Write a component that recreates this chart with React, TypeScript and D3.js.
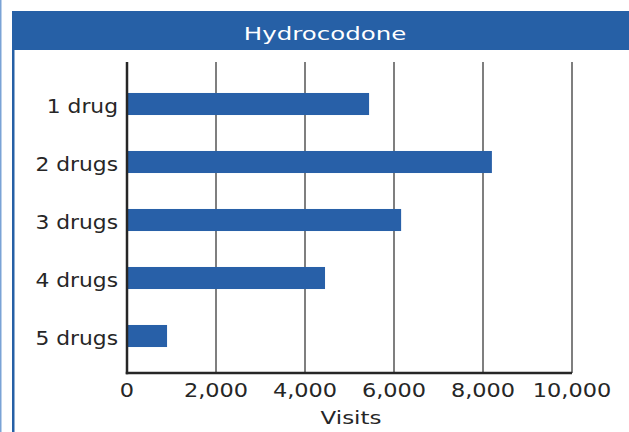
import React from "react";
import * as d3 from "d3";

const categories = ["1 drug", "2 drugs", "3 drugs", "4 drugs", "5 drugs"];
const visits = [5440, 8200, 6160, 4450, 900];
const xTicks = [0, 2000, 4000, 6000, 8000, 10000];
const title = "Hydrocodone";
const xLabel = "Visits";

const W = 629;
const H = 432;
const font = "'DejaVu Sans', Verdana, sans-serif";

function T({ x, y, sx, size, anchor, fill, children }: any) {
  return (
    <g transform={`translate(${x},${y}) scale(${sx},1)`}>
      <text x={0} y={0} textAnchor={anchor} fill={fill} fontFamily={font} fontSize={size}>
        {children}
      </text>
    </g>
  );
}

export default function App() {
  const left = 127;
  const right = 572;
  const top = 62;
  const bottom = 373;
  const x = d3.scaleLinear().domain([0, 10000]).range([left, right]);
  const y = d3.scaleBand().domain(categories).range([75, 365]).paddingInner(0.62).paddingOuter(0.31);
  const fmt = d3.format(",");
  const blue = "#2860a8";
  const ink = "#262626";
  return (
    <svg width={W} height={H} style={{ position: "absolute", left: 0, top: 0, display: "block" }}>
      <rect x={0} y={0} width={W} height={H} fill="#fff" />
      <rect x={0} y={0} width={1.5} height={H} fill="#7aa3d6" />
      <rect x={12} y={11} width={W - 12} height={39} fill="#2660a6" />
      <rect x={12} y={50} width={2.5} height={H - 50} fill="#2660a6" />
      <T x={325} y={40} sx={1.4} size={17.5} anchor="middle" fill="#fff">{title}</T>
      {xTicks.slice(1).map((t) => (
        <line key={t} x1={x(t)} x2={x(t)} y1={top} y2={bottom} stroke="#555" strokeWidth={1.5} />
      ))}
      {categories.map((c, i) => (
        <rect key={c} x={x(0)} y={y(c)} width={x(visits[i]) - x(0)} height={y.bandwidth()} fill={blue} />
      ))}
      <line x1={left} x2={left} y1={top} y2={bottom + 1.25} stroke={ink} strokeWidth={2.5} />
      <line x1={left - 1.25} x2={right} y1={bottom} y2={bottom} stroke={ink} strokeWidth={2.5} />
      {categories.map((c) => (
        <T key={c} x={118} y={y(c)! + y.bandwidth() / 2 + 8.5} sx={1.09} size={20} anchor="end" fill={ink}>
          {c}
        </T>
      ))}
      {xTicks.map((t) => (
        <T key={t} x={x(t)} y={397} sx={1.18} size={19} anchor="middle" fill={ink}>
          {fmt(t)}
        </T>
      ))}
      <T x={351} y={424} sx={1.24} size={18.5} anchor="middle" fill={ink}>{xLabel}</T>
    </svg>
  );
}
